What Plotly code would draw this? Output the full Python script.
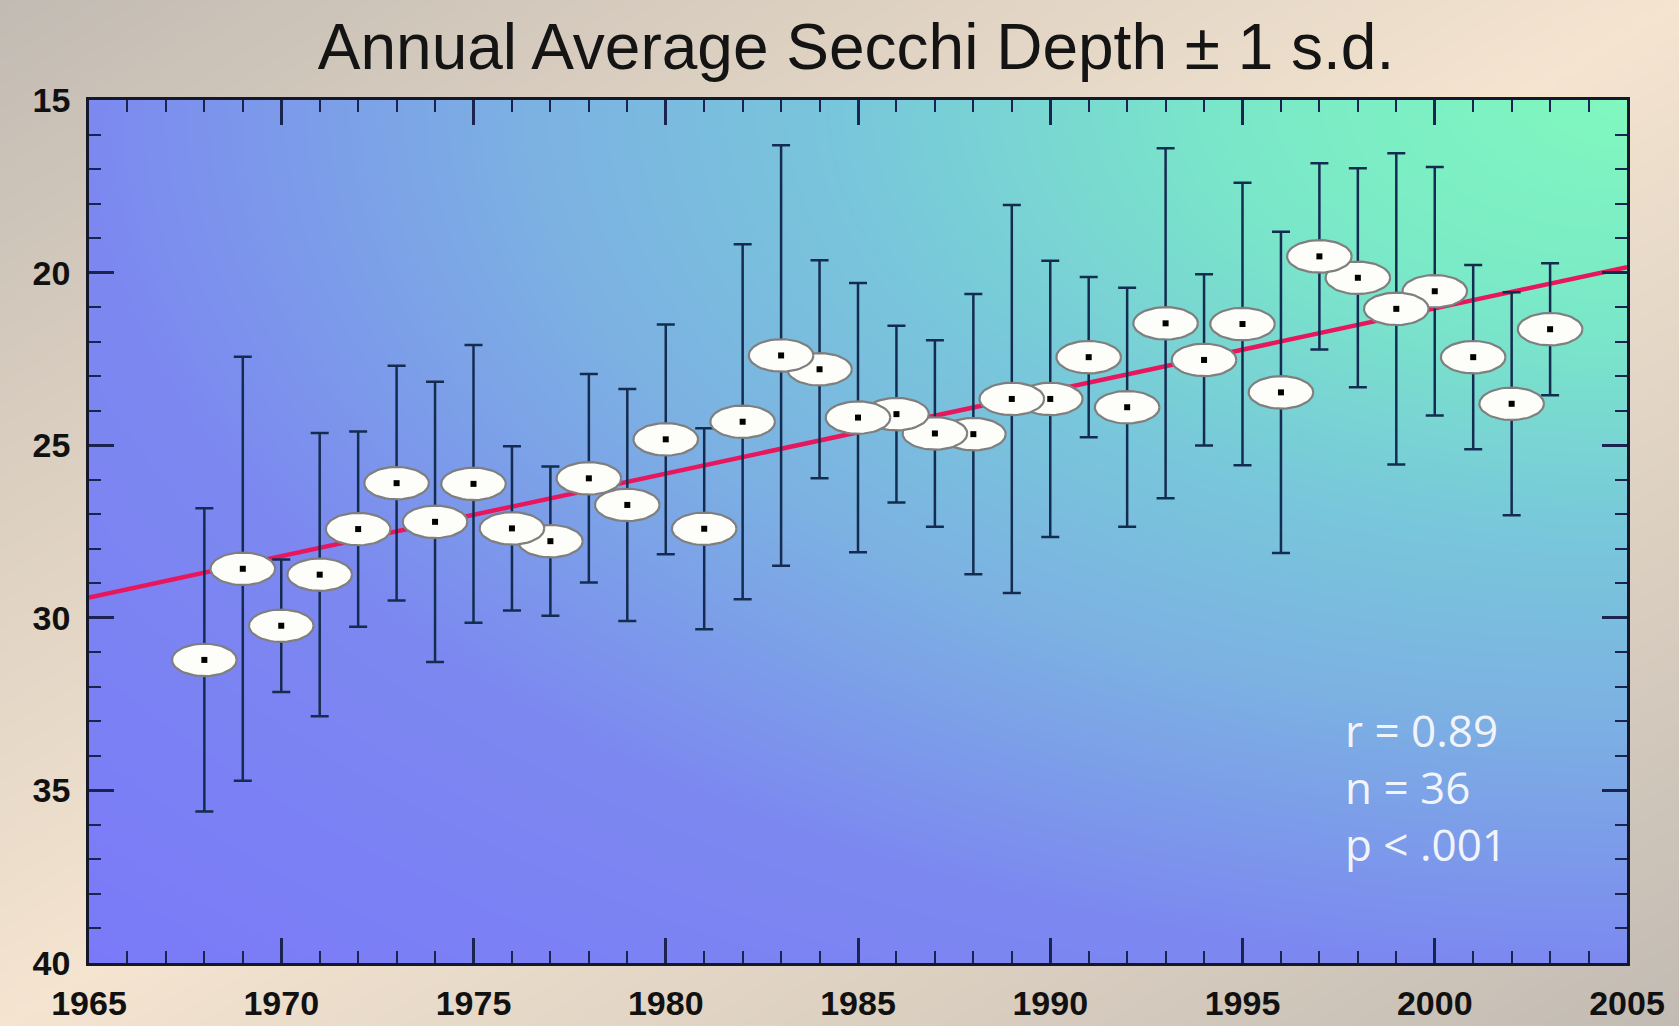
import numpy as np
import plotly.graph_objects as go

# ---- data -------------------------------------------------------------
years = list(range(1968, 2004))
mean_depth = [31.22, 28.58, 30.23, 28.75, 27.43, 26.10, 27.22, 26.12, 27.41, 27.78,
              25.96, 26.73, 24.83, 27.42, 24.32, 22.40, 22.80, 24.20, 24.10, 24.66,
              24.68, 23.66, 23.66, 22.45, 23.90, 21.47, 22.53, 21.49, 23.47, 19.53,
              20.15, 21.05, 20.54, 22.45, 23.80, 21.64]
sd_depth = [4.39, 6.14, 1.92, 4.10, 2.83, 3.40, 4.06, 4.02, 2.38, 2.16,
            3.02, 3.36, 3.33, 2.91, 5.14, 6.09, 3.16, 3.90, 2.56, 2.70,
            4.06, 5.62, 4.00, 2.32, 3.46, 5.07, 2.48, 4.09, 4.65, 2.70,
            3.17, 4.51, 3.60, 2.67, 3.23, 1.91]
trend_years = [1965, 2005]
trend_depth = [29.41, 19.84]
x_ticks = [1965, 1970, 1975, 1980, 1985, 1990, 1995, 2000, 2005]
y_ticks = [15, 20, 25, 30, 35, 40]
stats_text = ["r = 0.89", "n = 36", "p < .001"]
title_text = "Annual Average Secchi Depth \u00b1 1 s.d."

# ---- layout constants ---------------------------------------------------
W, H = 1679, 1026
PX0, PX1, PY0, PY1 = 89, 1627, 100, 963          # plot area in pixels
x_dom = [PX0 / W, PX1 / W]
y_dom = [1 - PY1 / H, 1 - PY0 / H]
X_RANGE = [1965, 2005]
Y_RANGE = [40, 15]

AXIS_COL = "#1b2350"
BAR_COL = "#142c50"

fig = go.Figure()

# ---- page background gradient (full-figure helper axes) ---------------
gu = np.linspace(0, 1, 80)
gv = np.linspace(0, 1, 60)
U, V = np.meshgrid(gu, gv)
page_z = np.abs(U - V)
fig.add_trace(go.Heatmap(
    x=gu, y=gv, z=page_z, zmin=0, zmax=1, zsmooth="best", showscale=False,
    colorscale=[[0, "#f4e4d0"], [0.5, "#dcd0c1"], [1, "#c2bbb3"]],
    hoverinfo="skip", xaxis="x", yaxis="y"))

# ---- plot area gradient --------------------------------------------------
bx = np.linspace(X_RANGE[0], X_RANGE[1], 90)
by = np.linspace(15, 40, 60)
BX, BY = np.meshgrid(bx, by)
dist = np.sqrt(((X_RANGE[1] - BX) / 40.0) ** 2 + ((BY - 15) / 25.0) ** 2)
fig.add_trace(go.Heatmap(
    x=bx, y=by, z=dist, zmin=0, zmax=np.sqrt(2), zsmooth="best", showscale=False,
    colorscale=[[0.0, "rgb(128,248,190)"], [0.18, "rgb(122,232,200)"],
                [0.35, "rgb(120,200,218)"], [0.50, "rgb(124,178,226)"],
                [0.71, "rgb(124,136,240)"], [1.0, "rgb(122,122,248)"]],
    hoverinfo="skip", xaxis="x2", yaxis="y2"))

# ---- regression line ---------------------------------------------------
fig.add_trace(go.Scatter(
    x=trend_years, y=trend_depth, mode="lines",
    line=dict(color="rgb(232,22,92)", width=4.5),
    hoverinfo="skip", xaxis="x2", yaxis="y2"))

# ---- +/- 1 s.d. bars ------------------------------------------------------
fig.add_trace(go.Scatter(
    x=years, y=mean_depth, mode="markers",
    marker=dict(size=1, color="rgba(0,0,0,0)"),
    error_y=dict(type="data", array=sd_depth, visible=True,
                 color=BAR_COL, thickness=2.5, width=9),
    hoverinfo="skip", xaxis="x2", yaxis="y2"))

# ---- elliptical markers (earlier years stacked on top) ------------------
theta = np.linspace(0, 2 * np.pi, 60)
HALF_W, HALF_H = 0.84, 0.47
for yr, m in reversed(list(zip(years, mean_depth))):
    fig.add_trace(go.Scatter(
        x=yr + HALF_W * np.cos(theta), y=m + HALF_H * np.sin(theta),
        mode="lines", fill="toself", fillcolor="#fdfdf9",
        line=dict(color="#7f7f7f", width=2.2),
        hoverinfo="skip", xaxis="x2", yaxis="y2"))

# ---- centre dots --------------------------------------------------------
fig.add_trace(go.Scatter(
    x=years, y=mean_depth, mode="markers",
    marker=dict(symbol="square", size=6, color="black"),
    hoverinfo="skip", xaxis="x2", yaxis="y2"))

# ---- statistics block ---------------------------------------------------
fig.add_annotation(
    x=1997.62, y=34.9, xref="x2", yref="y2", xanchor="left", yanchor="middle",
    align="left", showarrow=False, text="<br>".join(stats_text),
    font=dict(family="Open Sans, Liberation Sans, sans-serif", size=44,
              color="#f2f4fb"))

tick_font = dict(family="Liberation Sans, Arial, sans-serif",
                 size=34, color="#111111", weight="bold")

fig.update_layout(
    width=W, height=H,
    margin=dict(l=0, r=0, t=0, b=0, autoexpand=False),
    paper_bgcolor="#d8cdbf",
    plot_bgcolor="rgba(0,0,0,0)",
    showlegend=False,
    title=dict(text=title_text, x=856 / W, xanchor="center",
               y=1 - 47 / H, yanchor="middle", automargin=False,
               font=dict(family="Liberation Sans, Arial, sans-serif", size=64,
                         color="#141414")),
    xaxis=dict(domain=[0, 1], range=[0, 1], visible=False, fixedrange=True,
               automargin=False),
    yaxis=dict(domain=[0, 1], range=[0, 1], visible=False, fixedrange=True,
               automargin=False),
    xaxis2=dict(domain=x_dom, anchor="y2", range=X_RANGE, automargin=False,
                tickvals=x_ticks, ticks="inside", ticklen=25, tickwidth=2.5,
                tickcolor=AXIS_COL, showline=True, linecolor="#15182a",
                linewidth=2.5, mirror="allticks", showgrid=False, zeroline=False,
                tickfont=tick_font, ticklabelstandoff=8,
                minor=dict(dtick=1, ticks="inside", ticklen=12, tickwidth=2.2,
                           tickcolor=AXIS_COL, showgrid=False)),
    yaxis2=dict(domain=y_dom, anchor="x2", range=Y_RANGE, automargin=False,
                tickvals=y_ticks, ticks="inside", ticklen=25, tickwidth=2.5,
                tickcolor=AXIS_COL, showline=True, linecolor="#15182a",
                linewidth=2.5, mirror="allticks", showgrid=False, zeroline=False,
                tickfont=tick_font, ticklabelstandoff=9,
                minor=dict(dtick=1, ticks="inside", ticklen=12, tickwidth=2.2,
                           tickcolor=AXIS_COL, showgrid=False)),
)

fig.write_html("out.html")
